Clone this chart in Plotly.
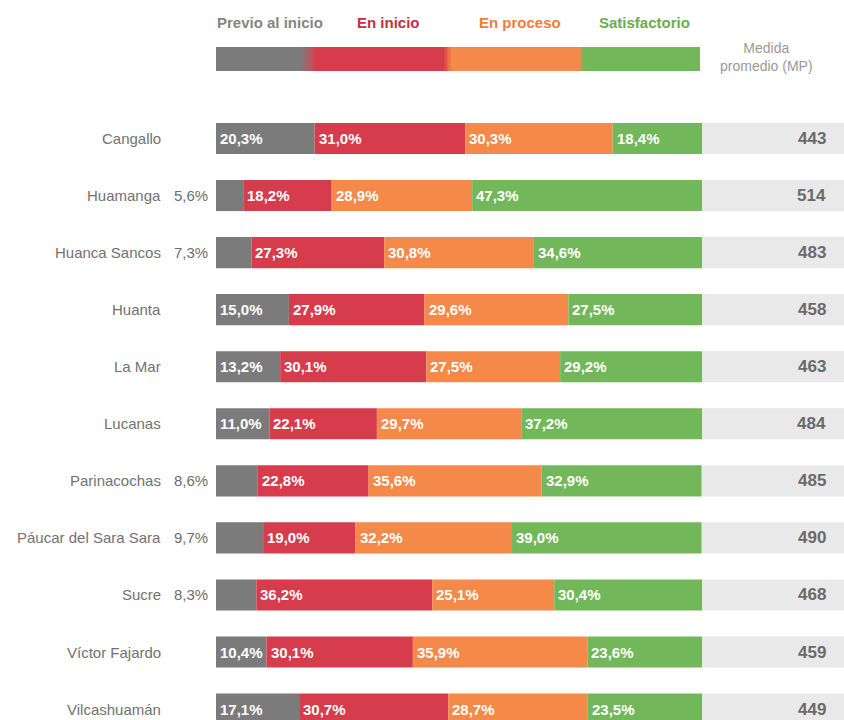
import plotly.graph_objects as go

provinces = ["Cangallo", "Huamanga", "Huanca Sancos", "Huanta", "La Mar", "Lucanas",
             "Parinacochas", "Páucar del Sara Sara", "Sucre", "Víctor Fajardo", "Vilcashuamán"]
previo = [20.3, 5.6, 7.3, 15.0, 13.2, 11.0, 8.6, 9.7, 8.3, 10.4, 17.1]
inicio = [31.0, 18.2, 27.3, 27.9, 30.1, 22.1, 22.8, 19.0, 36.2, 30.1, 30.7]
proceso = [30.3, 28.9, 30.8, 29.6, 27.5, 29.7, 35.6, 32.2, 25.1, 35.9, 28.7]
satisf = [18.4, 47.3, 34.6, 27.5, 29.2, 37.2, 32.9, 39.0, 30.4, 23.6, 23.5]
mp = [443, 514, 483, 458, 463, 484, 485, 490, 468, 459, 449]
level_names = ["Previo al inicio", "En inicio", "En proceso", "Satisfactorio"]

colors = ["#7b7b7b", "#d63c4b", "#f5894a", "#73b75b"]
legend_text_colors = ["#858585", "#c2303f", "#f07d3c", "#6dab52"]
MP_BG = "#e9e9e9"
XMAX = 129.2
font_main = "Liberation Sans, Arial, sans-serif"

fig = go.Figure()
ys = list(range(len(provinces)))
series = [previo, inicio, proceso, satisf]

# stacked bars
base = [0.0] * len(provinces)
bases = []
for vals, col in zip(series, colors):
    bases.append(base[:])
    fig.add_trace(go.Bar(y=ys, x=vals, base=base[:], orientation="h", width=0.545,
                         marker=dict(color=col, line=dict(width=0)), hoverinfo="skip"))
    base = [b + v for b, v in zip(base, vals)]

# MP background
fig.add_trace(go.Bar(y=ys, x=[XMAX - 100] * len(ys), base=[100] * len(ys), orientation="h",
                     width=0.545, marker=dict(color=MP_BG, line=dict(width=0)), hoverinfo="skip"))

ann = []
for i, name in enumerate(provinces):
    ann.append(dict(x=0, y=i, text=name, xanchor="right", xshift=-53, showarrow=False,
                    font=dict(family=font_main, size=15, color="#727272")))
    for k, vals in enumerate(series):
        v = vals[i]
        txt = f"{v:.1f}%".replace(".", ",")
        if k == 0 and v < 10:
            ann.append(dict(x=0, y=i, text=txt, xanchor="right", xshift=-6, showarrow=False,
                            font=dict(family=font_main, size=15, color="#6e6e6e")))
        else:
            ann.append(dict(x=bases[k][i], y=i, text="<b>" + txt + "</b>", xanchor="left", xshift=2,
                            showarrow=False, font=dict(family=font_main, size=15, color="#ffffff")))
    ann.append(dict(x=XMAX, y=i, text="<b>%d</b>" % mp[i], xanchor="right", xshift=-16, showarrow=False,
                    font=dict(family=font_main, size=17, color="#6a6a6a")))

# legend text
leg_x = [0, 28.8, 53.9, 78.6]
for name, lx, col in zip(level_names, leg_x, legend_text_colors):
    ann.append(dict(x=lx, y=-2.04, text="<b>" + name + "</b>", xanchor="left", xshift=-1, showarrow=False,
                    font=dict(family=font_main, size=15, color=col)))

ann.append(dict(x=113.2, y=-1.43, text="Medida<br>promedio (MP)", showarrow=False,
                font=dict(family=font_main, size=14, color="#9a9a9a")))

# legend gradient bar (each layer drawn to the bar's end, later ones cover earlier -> no seams)
LEG_END = 99.4
leg_starts = [(0, "#7b7b7b"), (17.6, "#8a7374"), (18.3, "#a0676b"),
              (19.0, "#b85a61"), (19.7, "#cb4855"),
              (20.4, "#d63c4b"), (47.0, "#e05246"), (47.6, "#ec7048"),
              (48.3, "#f5894a"), (75.0, "#b5a052"), (75.4, "#73b75b")]
for x0, col in leg_starts:
    fig.add_shape(type="rect", x0=x0, x1=LEG_END, y0=-1.393 - 0.21, y1=-1.393 + 0.21,
                  fillcolor=col, line=dict(width=0), layer="below")

fig.update_layout(
    width=844, height=720, margin=dict(l=216, r=0, t=0, b=0),
    barmode="overlay", showlegend=False,
    plot_bgcolor="white", paper_bgcolor="white",
    xaxis=dict(range=[0, XMAX], visible=False, fixedrange=True),
    yaxis=dict(range=[10.191, -2.427], visible=False, fixedrange=True),
    annotations=ann, hovermode=False,
)
fig.write_html("out.html")
